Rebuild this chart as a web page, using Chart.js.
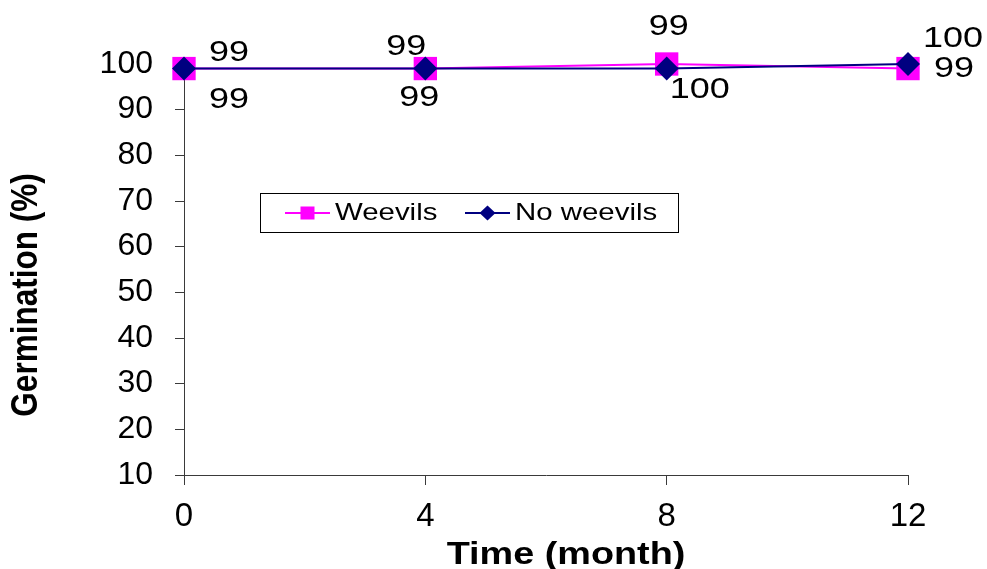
<!DOCTYPE html>
<html>
<head>
<meta charset="utf-8">
<title>Germination over time</title>
<script src="https://cdn.jsdelivr.net/npm/chart.js@4.4.1/dist/chart.umd.min.js"></script>
<style>
  html, body { margin: 0; padding: 0; background: #ffffff; }
  #wrap { width: 987px; height: 569px; }
</style>
</head>
<body>
<div id="wrap"><canvas id="chart" width="987" height="569"></canvas></div>
<script>
// Storage time (months) and germination (%) for each treatment
const months = [0, 4, 8, 12];
const weevils = [99, 99, 100, 99];
const noWeevils = [99, 99, 99, 100];

// Axis tick values
const xTickValues = [0, 4, 8, 12];
const yTickValues = [10, 20, 30, 40, 50, 60, 70, 80, 90, 100];

const seriesNames = ['Weevils', 'No weevils'];
const xTitle = 'Time (month)';
const yTitle = 'Germination (%)';

const FONT = '"Liberation Sans", Arial, Helvetica, sans-serif';
const STRETCH = 1.2; // horizontal widening of the drawn lettering

const toPoints = vals => vals.map((v, i) => ({ x: months[i], y: v }));

// Value labels: offset of each label from its marker (px)
const labelOffsets = [
  [[45, 31], [-6, 29], [33, 26], [46, 0]],      // Weevils
  [[45, -16], [-19, -22], [2, -42], [45, -25]]  // No weevils
];

const valueLabels = {
  id: 'valueLabels',
  afterDatasetsDraw(chart) {
    const ctx = chart.ctx;
    ctx.save();
    ctx.fillStyle = '#000';
    ctx.font = '30px ' + FONT;
    ctx.textAlign = 'center';
    ctx.textBaseline = 'middle';
    chart.data.datasets.forEach((ds, di) => {
      const meta = chart.getDatasetMeta(di);
      meta.data.forEach((pt, i) => {
        const off = labelOffsets[di][i];
        ctx.save();
        ctx.translate(pt.x + off[0], pt.y + off[1]);
        ctx.scale(STRETCH, 1);
        ctx.fillText(String(ds.data[i].y), 0, 0);
        ctx.restore();
      });
    });
    ctx.restore();
  }
};

const axisTitles = {
  id: 'axisTitles',
  afterDraw(chart) {
    const ctx = chart.ctx;
    ctx.save();
    ctx.fillStyle = '#000';
    ctx.font = 'bold 31.5px ' + FONT;
    ctx.textAlign = 'center';
    // x title
    ctx.save();
    ctx.translate(566, 564);
    ctx.scale(STRETCH, 1);
    ctx.textBaseline = 'alphabetic';
    ctx.fillText(xTitle, 0, 0);
    ctx.restore();
    // y title
    ctx.save();
    ctx.translate(27, 295);
    ctx.scale(STRETCH, 1);
    ctx.rotate(-Math.PI / 2);
    ctx.textBaseline = 'middle';
    ctx.fillText(yTitle, 0, 0);
    ctx.restore();
    ctx.restore();
  }
};

const boxLegend = {
  id: 'boxLegend',
  afterDraw(chart) {
    const ctx = chart.ctx;
    ctx.save();
    ctx.fillStyle = '#fff';
    ctx.fillRect(260, 193, 419, 40);
    ctx.strokeStyle = '#000';
    ctx.lineWidth = 1;
    ctx.strokeRect(260.5, 193.5, 418, 39);
    const items = [
      { ds: chart.data.datasets[0], x0: 285, x1: 330, tx: 335 },
      { ds: chart.data.datasets[1], x0: 465, x1: 510, tx: 515 }
    ];
    const cy = 213;
    items.forEach(it => {
      ctx.strokeStyle = it.ds.borderColor;
      ctx.lineWidth = 2;
      ctx.beginPath();
      ctx.moveTo(it.x0, cy);
      ctx.lineTo(it.x1, cy);
      ctx.stroke();
      ctx.fillStyle = it.ds.backgroundColor;
      const mx = (it.x0 + it.x1) / 2;
      if (it.ds.pointStyle === 'rect') {
        ctx.fillRect(mx - 7, cy - 6.5, 14, 13);
      } else {
        ctx.beginPath();
        ctx.moveTo(mx - 8, cy);
        ctx.lineTo(mx, cy - 7.5);
        ctx.lineTo(mx + 8, cy);
        ctx.lineTo(mx, cy + 7.5);
        ctx.closePath();
        ctx.fill();
      }
      ctx.fillStyle = '#000';
      ctx.font = '24.5px ' + FONT;
      ctx.textAlign = 'left';
      ctx.textBaseline = 'alphabetic';
      ctx.save();
      ctx.translate(it.tx, 219.5);
      ctx.scale(STRETCH, 1);
      ctx.fillText(it.ds.label, 0, 0);
      ctx.restore();
    });
    ctx.restore();
  }
};

const axisLine = '#3a3a3a';

new Chart(document.getElementById('chart'), {
  type: 'line',
  data: {
    datasets: [
      {
        label: seriesNames[0],
        data: toPoints(weevils),
        borderColor: '#FF00FF',
        backgroundColor: '#FF00FF',
        borderWidth: 2,
        pointStyle: 'rect',
        pointRadius: 16.5,
        pointBorderWidth: 0,
        pointHoverRadius: 16.5,
        tension: 0,
        clip: false,
        order: 2
      },
      {
        label: seriesNames[1],
        data: toPoints(noWeevils),
        borderColor: '#000080',
        backgroundColor: '#000080',
        borderWidth: 2,
        pointStyle: 'rectRot',
        pointRadius: 12,
        pointBorderWidth: 0,
        pointHoverRadius: 12,
        tension: 0,
        clip: false,
        order: 1
      }
    ]
  },
  options: {
    responsive: false,
    devicePixelRatio: 1,
    animation: false,
    events: [],
    layout: { padding: { top: 64, right: 79, left: 0, bottom: 0 } },
    plugins: {
      legend: { display: false },
      tooltip: { enabled: false },
      title: { display: false }
    },
    scales: {
      x: {
        type: 'linear',
        min: 0,
        max: 12,
        afterBuildTicks: s => { s.ticks = xTickValues.map(v => ({ value: v })); },
        afterFit: s => { s.height = 94; },
        ticks: {
          color: '#000',
          font: { family: FONT, size: 33 },
          padding: 12,
          maxRotation: 0,
          autoSkip: false
        },
        grid: {
          display: true,
          drawOnChartArea: false,
          drawTicks: true,
          tickLength: 10,
          color: axisLine,
          lineWidth: 1
        },
        border: { display: true, color: axisLine, width: 1 }
      },
      y: {
        type: 'linear',
        min: 10,
        max: 100,
        afterBuildTicks: s => { s.ticks = yTickValues.map(v => ({ value: v })); },
        afterFit: s => { s.width = 184; },
        ticks: {
          color: '#000',
          font: { family: FONT, size: 32 },
          padding: 22,
          autoSkip: false
        },
        grid: {
          display: true,
          drawOnChartArea: false,
          drawTicks: true,
          tickLength: 9,
          color: axisLine,
          lineWidth: 1
        },
        border: { display: true, color: axisLine, width: 1 }
      }
    }
  },
  plugins: [valueLabels, axisTitles, boxLegend]
});
</script>
</body>
</html>
